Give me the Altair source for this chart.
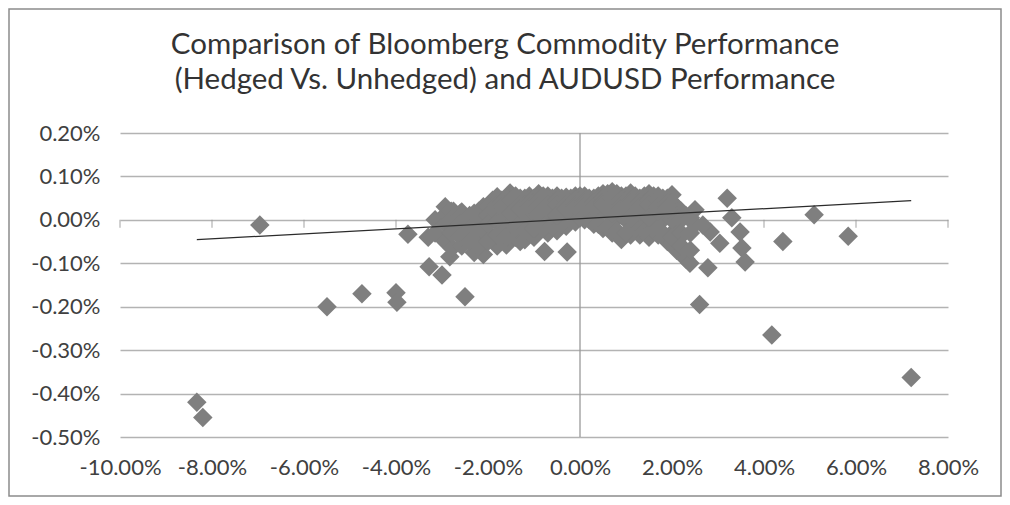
import altair as alt
import pandas as pd

title_lines = [
    "Comparison of Bloomberg Commodity Performance",
    "(Hedged Vs. Unhedged) and AUDUSD Performance",
]
x_ticks = [-10, -8, -6, -4, -2, 0, 2, 4, 6, 8]
y_ticks = [-0.5, -0.4, -0.3, -0.2, -0.1, 0.0, 0.1, 0.2]

# AUDUSD performance (%) and hedged-vs-unhedged commodity difference (%)
aud_outer = [-8.33, -8.2, -6.96, -5.5, -4.74, -4.0, -3.98, -3.74,
             2.6, 2.78, 2.83, 3.04, 3.2, 3.3, 3.48, 3.52, 3.59,
             4.17, 4.41, 5.09, 5.83, 7.2]
cmd_outer = [-0.42, -0.455, -0.012, -0.2, -0.17, -0.168, -0.19, -0.033,
             -0.195, -0.11, -0.028, -0.054, 0.05, 0.005, -0.028, -0.065, -0.097,
             -0.265, -0.05, 0.012, -0.038, -0.363]

aud_left = [-3.3, -3.28, -3.0, -3.15, -3.15, -2.93, -2.93, -2.93, -2.83, -2.78,
            -2.75, -2.75, -2.57, -2.57, -2.57, -2.5, -2.46, -2.3, -2.3, -2.3,
            -2.1, -2.1, -2.1, -1.9, -1.9, -1.9, -1.8, -1.8, -1.7, -1.7,
            -1.6, -1.52, -1.52, -1.52, -1.4, -1.4, -1.3, -1.3, -1.3, -1.2,
            -1.2, -1.1, -1.1, -1.0, -1.0, -0.9, -0.9, -0.8, -0.77]
cmd_left = [-0.04, -0.108, -0.127, 0.0, -0.03, 0.03, -0.01, -0.05, -0.085, -0.065,
            0.02, -0.02, 0.018, -0.03, -0.06, -0.177, -0.015, 0.005, -0.04, -0.075,
            0.023, -0.02, -0.08, 0.045, 0.0, -0.04, 0.053, -0.06, 0.02, -0.025,
            -0.058, 0.062, 0.03, -0.01, 0.04, -0.04, 0.05, 0.01, -0.05, -0.046,
            0.025, 0.055, -0.01, 0.03, -0.04, 0.06, 0.0, 0.035, -0.073]

aud_upper = [-2.9, -2.7, -2.7, -2.5, -2.5, -2.3, -2.3, -2.2, -2.1, -2.1,
             -2.0, -1.9, -1.9, -1.8, -1.7, -1.6, -1.5, -1.4, -1.3, -1.2,
             -1.1, -1.0, -2.4, -2.6]
cmd_upper = [0.015, 0.01, 0.0, 0.005, -0.01, 0.0, 0.015, 0.02, 0.01, 0.03,
             0.02, 0.03, 0.02, 0.04, 0.045, 0.04, 0.05, 0.045, 0.04, 0.05,
             0.045, 0.045, 0.005, 0.015]

aud_mid = [-0.7, -0.7, -0.7, -0.5, -0.5, -0.5, -0.3, -0.3, -0.3, -0.28,
           -0.1, -0.1, -0.1, 0.1, 0.1, 0.1, 0.3, 0.3, 0.3, 0.5,
           0.5, 0.5, 0.7, 0.7, 0.7, 0.9, 0.9, 0.9, 1.1, 1.1,
           1.1, 1.3, 1.3, 1.3, 1.5, 1.5, 1.5, 1.7, 1.7, 1.7,
           1.9, 1.9, 1.9, 2.0, 2.1, 2.1, 2.1, 2.17, 2.24, 2.3,
           2.3, 2.39, 2.5, 2.5, 2.67]
cmd_mid = [0.055, 0.01, -0.03, 0.055, 0.02, -0.025, 0.052, 0.0, -0.015, -0.074,
           0.055, 0.02, -0.005, 0.055, 0.02, 0.0, 0.05, 0.015, -0.01, 0.06,
           0.02, -0.02, 0.065, 0.03, -0.03, 0.055, 0.01, -0.045, 0.062, 0.02,
           -0.035, 0.05, 0.0, -0.035, 0.06, 0.02, -0.04, 0.055, 0.0, -0.035,
           0.05, 0.01, -0.05, 0.058, 0.03, -0.02, -0.07, -0.04, -0.07, 0.01,
           -0.09, -0.1, 0.023, -0.01, -0.012]

# dense body of the cloud
aud_body = [-2.8, -2.8, -2.8, -2.6, -2.6, -2.6, -2.4, -2.4, -2.4,
            -2.2, -2.2, -2.2, -2.2, -2.0, -2.0, -2.0, -2.0,
            -1.8, -1.8, -1.8, -1.8, -1.6, -1.6, -1.6, -1.6, -1.6,
            -1.4, -1.4, -1.4, -1.4, -1.2, -1.2, -1.2, -1.2,
            -1.0, -1.0, -1.0, -1.0, -0.8, -0.8, -0.8, -0.8, -0.8,
            -0.6, -0.6, -0.6, -0.6, -0.6, -0.4, -0.4, -0.4, -0.4, -0.4,
            -0.2, -0.2, -0.2, -0.2, -0.2, 0.0, 0.0, 0.0, 0.0, 0.0,
            0.2, 0.2, 0.2, 0.2, 0.2, 0.4, 0.4, 0.4, 0.4, 0.4,
            0.6, 0.6, 0.6, 0.6, 0.6, 0.8, 0.8, 0.8, 0.8, 0.8,
            1.0, 1.0, 1.0, 1.0, 1.0, 1.2, 1.2, 1.2, 1.2, 1.2,
            1.4, 1.4, 1.4, 1.4, 1.4, 1.6, 1.6, 1.6, 1.6, 1.6,
            1.8, 1.8, 1.8, 1.8, 1.8, 2.0, 2.0, 2.0, 2.0,
            2.2, 2.2, 2.2, 2.2, 2.4, 2.4, 2.4]
cmd_body = [0.02, 0.0, -0.03, 0.01, -0.01, -0.04, 0.01, -0.02, -0.05,
            0.015, -0.005, -0.03, -0.06, 0.03, 0.01, -0.01, -0.05,
            0.035, 0.015, -0.005, -0.035, 0.05, 0.03, 0.01, -0.02, -0.04,
            0.055, 0.02, 0.0, -0.02, 0.045, 0.035, 0.01, -0.025,
            0.05, 0.04, 0.015, -0.02, 0.055, 0.045, 0.02, 0.005, -0.02,
            0.05, 0.04, 0.03, 0.01, -0.015, 0.05, 0.035, 0.025, 0.01, -0.01,
            0.05, 0.04, 0.03, 0.01, 0.0, 0.055, 0.045, 0.035, 0.02, 0.005,
            0.05, 0.04, 0.03, 0.01, 0.0, 0.055, 0.045, 0.03, 0.01, -0.01,
            0.06, 0.045, 0.035, 0.015, -0.015, 0.06, 0.045, 0.03, 0.005, -0.025,
            0.055, 0.045, 0.03, 0.0, -0.03, 0.055, 0.04, 0.025, 0.01, -0.02,
            0.055, 0.04, 0.03, 0.005, -0.025, 0.055, 0.04, 0.025, 0.01, -0.02,
            0.05, 0.035, 0.02, 0.0, -0.03, 0.04, 0.02, 0.0, -0.04,
            0.02, 0.0, -0.03, -0.06, 0.005, -0.03, -0.07]

aud_core = [-1.7, -1.7, -1.5, -1.5, -1.3, -1.3, -1.1, -1.1,
            -0.9, -0.9, -0.9, -0.7, -0.7, -0.7, -0.5, -0.5, -0.5,
            -0.3, -0.3, -0.3, -0.1, -0.1, -0.1, 0.1, 0.1, 0.1,
            0.3, 0.3, 0.5, 0.5, 0.5, 0.7, 0.7, 0.7, 0.9, 0.9, 0.9,
            1.1, 1.1, 1.1, 1.3, 1.3, 1.3, 1.5, 1.5, 1.5,
            1.7, 1.7, 1.7, 1.9, 1.9, 1.9]
cmd_core = [0.04, 0.03, 0.045, 0.015, 0.035, 0.025, 0.04, 0.03,
            0.045, 0.03, 0.015, 0.045, 0.035, 0.025, 0.045, 0.035, 0.01,
            0.045, 0.035, 0.025, 0.045, 0.035, 0.03, 0.045, 0.04, 0.03,
            0.04, 0.03, 0.05, 0.04, 0.035, 0.05, 0.04, 0.015, 0.045, 0.035, 0.025,
            0.045, 0.04, 0.005, 0.04, 0.03, 0.02, 0.045, 0.035, 0.005,
            0.045, 0.03, 0.02, 0.04, 0.03, 0.025]

df = pd.DataFrame({
    "aud": aud_outer + aud_left + aud_upper + aud_mid + aud_body + aud_core,
    "cmd": cmd_outer + cmd_left + cmd_upper + cmd_mid + cmd_body + cmd_core,
})

W, H = 828, 304
FONT = "Lato"
TXT = "#404040"
label_expr = "(datum.value < 0 ? '-' : '') + format(abs(datum.value), '.2f') + '%'"

x_enc = alt.X(
    "aud:Q",
    scale=alt.Scale(domain=[-10, 8], nice=False, zero=False),
    axis=alt.Axis(values=x_ticks, labelExpr=label_expr, grid=False, domain=False,
                  ticks=False, labelPadding=20, title=None, labelFont=FONT,
                  labelFontSize=22, labelColor=TXT, labelFlush=False),
)
y_enc = alt.Y(
    "cmd:Q",
    scale=alt.Scale(domain=[-0.5, 0.2], nice=False, zero=False),
    axis=alt.Axis(values=y_ticks, labelExpr=label_expr, grid=True, gridColor="#b3b3b3",
                  gridWidth=1.4, domain=False, ticks=False, labelPadding=20, title=None,
                  labelFont=FONT, labelFontSize=22, labelColor=TXT),
)

dummy = pd.DataFrame({"k": [0]})

border = alt.Chart(dummy).mark_rect(fillOpacity=0, stroke="#8c8c8c", strokeWidth=1.5).encode(
    x=alt.value(-111), x2=alt.value(W + 53), y=alt.value(-124), y2=alt.value(H + 59)
)

points = alt.Chart(df).mark_point(
    shape="diamond", filled=True, size=380, color="#7f7f7f", opacity=1
).encode(x=x_enc, y=y_enc)

zero_v = alt.Chart(pd.DataFrame({"aud": [0]})).mark_rule(color="#9a9a9a", strokeWidth=1.3).encode(
    x="aud:Q"
)

tick_df = pd.DataFrame({"aud": x_ticks, "cmd": [0.0] * len(x_ticks)})
ticks = alt.Chart(tick_df).mark_tick(
    orient="vertical", size=8, thickness=1.3, yOffset=4, color="#9a9a9a"
).encode(x="aud:Q", y="cmd:Q")

trend = alt.Chart(df).transform_regression("aud", "cmd").mark_line(
    color="#2b2b2b", strokeWidth=1.3
).encode(x="aud:Q", y="cmd:Q")

t1 = alt.Chart(dummy).mark_text(
    text=title_lines[0], font=FONT, fontSize=29.5, color="#333333", baseline="middle", align="center"
).encode(x=alt.value(385), y=alt.value(-88))
t2 = alt.Chart(dummy).mark_text(
    text=title_lines[1], font=FONT, fontSize=29.5, color="#333333", baseline="middle", align="center"
).encode(x=alt.value(385), y=alt.value(-53))

chart = alt.layer(border, zero_v, ticks, points, trend, t1, t2).properties(
    width=W,
    height=H,
    autosize=alt.AutoSizeParams(type="none"),
    padding={"left": 112, "top": 125, "right": 54, "bottom": 60},
).configure_view(strokeWidth=0)

chart.save("out.html", embed_options={"renderer": "svg", "actions": False})
